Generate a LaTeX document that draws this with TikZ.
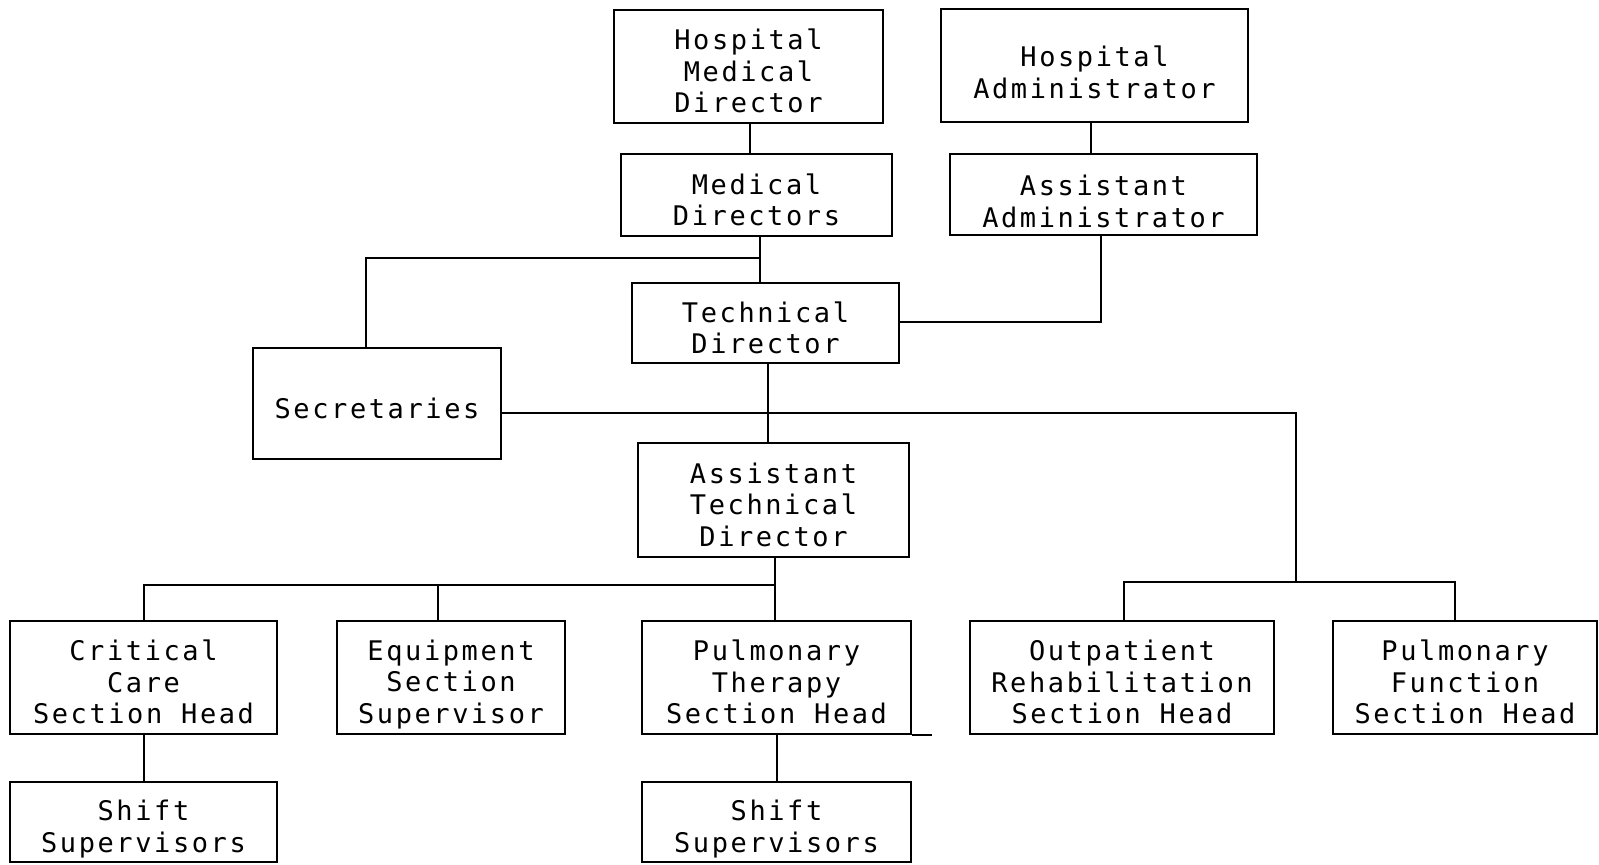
\documentclass[tikz,border=0pt]{standalone}
\usepackage{fontspec}
\newfontfamily\tw[LetterSpace=9.6]{DejaVu Sans Mono}
\newcommand\dn{\rule{0pt}{30pt}}
\newcommand\dnn{\rule{0pt}{34pt}}
\begin{document}
\begin{tikzpicture}[x=1pt,y=-1pt,
  box/.style={draw, line width=1.5pt, align=center, inner sep=0pt,
    font=\tw\fontsize{27}{31.6}\selectfont},
  conn/.style={line width=1.5pt}]
\useasboundingbox[fill=white] (0,0) rectangle (1599,865);
\node[box, minimum width=269, minimum height=113] (hmd) at (748.5,66.5) {\dn Hospital\\Medical\\Director};
\node[box, minimum width=307, minimum height=113] (ha) at (1094.5,65.5) {\dnn Hospital\\Administrator};
\node[box, minimum width=271, minimum height=82] (md) at (756.5,195) {\dn Medical\\Directors};
\node[box, minimum width=307, minimum height=81] (aa) at (1103.5,194.5) {\dnn Assistant\\Administrator};
\node[box, minimum width=267, minimum height=80] (td) at (765.5,323) {\dn Technical\\Director};
\node[box, minimum width=248, minimum height=111] (sec) at (377,403.5) {\dn Secretaries};
\node[box, minimum width=271, minimum height=114] (atd) at (773.5,500) {\dn Assistant\\Technical\\Director};
\node[box, minimum width=267, minimum height=113] (cc) at (143.5,677.5) {\dn Critical\\Care\\Section Head};
\node[box, minimum width=228, minimum height=113] (eq) at (451,677.5) {\dnn Equipment\\Section\\Supervisor};
\node[box, minimum width=269, minimum height=113] (pt) at (776.5,677.5) {\dn Pulmonary\\Therapy\\Section Head};
\node[box, minimum width=304, minimum height=113] (or) at (1122,677.5) {\dn Outpatient\\Rehabilitation\\Section Head};
\node[box, minimum width=264, minimum height=113] (pf) at (1465,677.5) {\dn Pulmonary\\Function\\Section Head};
\node[box, minimum width=267, minimum height=80] (ss1) at (143.5,822) {\dnn Shift\\Supervisors};
\node[box, minimum width=269, minimum height=80] (ss2) at (776.5,822) {\dnn Shift\\Supervisors};
\coordinate (mdj) at (760,258);
\coordinate (secr) at (1296,413);
\coordinate (orbus) at (1296,582);
\coordinate (atdbus) at (775,585);
% connectors
\draw[conn] (750,0 |- hmd.south) -- (750,0 |- md.north);
\draw[conn] (1091,0 |- ha.south) -- (1091,0 |- aa.north);
\draw[conn] (760,0 |- md.south) -- (760,0 |- td.north);
\draw[conn] (mdj) -- (366,258) -- (366,0 |- sec.north);
\draw[conn] (1101,0 |- aa.south) -- (1101,322) -- (td.east |- 0,322);
\draw[conn] (768,0 |- td.south) -- (768,0 |- atd.north);
\draw[conn] (sec.east |- secr) -- (secr) -- (orbus);
\draw[conn] (1124,0 |- or.north) -- (1124,582) -- (1455,582) -- (1455,0 |- pf.north);
\draw[conn] (775,0 |- atd.south) -- (775,0 |- pt.north);
\draw[conn] (atdbus) -- (144,585) -- (144,0 |- cc.north);
\draw[conn] (438,585) -- (438,0 |- eq.north);
\draw[conn] (144,0 |- cc.south) -- (144,0 |- ss1.north);
\draw[conn] (777,0 |- pt.south) -- (777,0 |- ss2.north);
\draw[conn] (pt.south east) -- ++(20,0);
\end{tikzpicture}
\end{document}
